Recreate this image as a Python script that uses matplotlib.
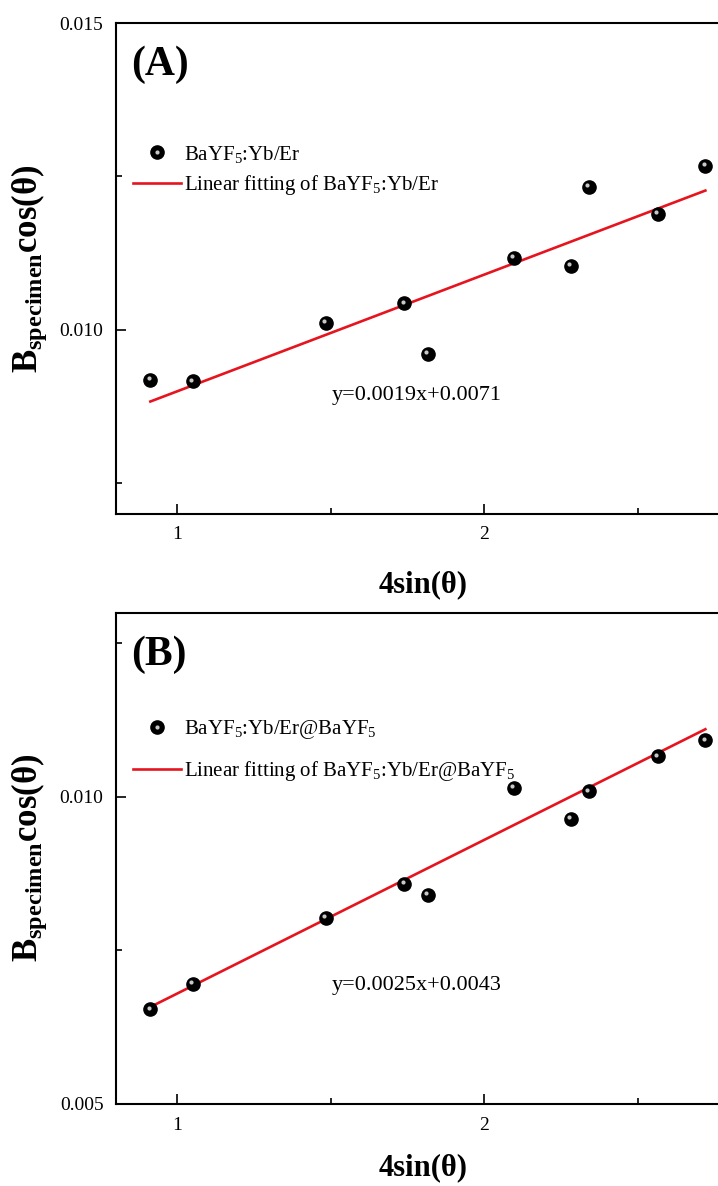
import numpy as np
import matplotlib
matplotlib.use("Agg")
import matplotlib.pyplot as plt
from matplotlib.transforms import offset_copy
from matplotlib.lines import Line2D

plt.rcParams['font.family'] = ['Liberation Serif', 'DejaVu Serif']
plt.rcParams['mathtext.fontset'] = 'custom'
plt.rcParams['mathtext.rm'] = 'Liberation Serif'
plt.rcParams['mathtext.bf'] = 'Liberation Serif:bold'
plt.rcParams['mathtext.it'] = 'Liberation Serif:italic'

# 4sin(theta) values (same peaks for both samples)
x_vals = [0.912, 1.051, 1.483, 1.740, 1.816, 2.096, 2.284, 2.342, 2.566, 2.721]
# B_specimen*cos(theta)
y_core = [0.00919, 0.00916, 0.01012, 0.01043, 0.00961, 0.01117, 0.01104, 0.01233, 0.01189, 0.01267]
y_shell = [0.00654, 0.00696, 0.00803, 0.00858, 0.00840, 0.01015, 0.00964, 0.01009, 0.01066, 0.01092]
# linear fits (slope, intercept)
fit_core = [0.0019, 0.0071]
fit_shell = [0.0025, 0.0043]

names = ['BaYF$_5$:Yb/Er', 'BaYF$_5$:Yb/Er@BaYF$_5$']
panel_tags = ['(A)', '(B)']
ylims = [(0.007, 0.015), (0.005, 0.013)]
y_major = [[0.010, 0.015], [0.005, 0.010]]
y_minor = [0.0075, 0.0125]

W, H = 718, 1186
fig = plt.figure(figsize=(W / 100, H / 100), dpi=100)
left = 116 / W
width = (729.6 - 116) / W
axA = fig.add_axes([left, 1 - 514 / H, width, (514 - 23) / H])
axB = fig.add_axes([left, 1 - 1104 / H, width, (1104 - 612.7) / H])

red = '#e6141e'
leg_y = [0.754, 0.785]
leg_sp = [0.4, 0.85]
xlab_y = [-0.114, -0.1]

for i, (ax, yv, fit) in enumerate([(axA, y_core, fit_core), (axB, y_shell, fit_shell)]):
    # fit line
    xs = np.array([min(x_vals), max(x_vals)])
    ax.plot(xs, fit[0] * xs + fit[1], color=red, lw=1.9, zorder=2)
    # sphere-like markers
    ax.plot(x_vals, yv, 'o', ms=9.5, color='black', zorder=3)
    hl = offset_copy(ax.transData, fig=fig, x=-1.3, y=1.3, units='points')
    ax.plot(x_vals, yv, 'o', ms=3, color='#c8c8c8', mew=0, transform=hl, zorder=4)

    ax.set_xlim(0.8, 2.8)
    ax.set_ylim(*ylims[i])
    ax.set_xticks([1, 2])
    ax.set_xticklabels(['1', '2'])
    ax.set_xticks([1.5, 2.5], minor=True)
    ax.set_yticks(y_major[i])
    ax.set_yticklabels(['%.3f' % v for v in y_major[i]])
    ax.set_yticks(y_minor, minor=True)
    ax.tick_params(which='both', direction='in', top=False, right=False,
                   labelsize=14, width=1.2, pad=9)
    ax.tick_params(which='major', length=7)
    ax.tick_params(which='minor', length=4)
    for sp in ax.spines.values():
        sp.set_linewidth(1.5)

    ax.set_xlabel('4sin(θ)', fontsize=22, fontweight='bold')
    ax.xaxis.set_label_coords(0.5, xlab_y[i])
    ax.set_ylabel(r'$\mathbf{B}_{\mathbf{specimen}}\mathbf{cos(θ)}$', fontsize=25)
    ax.yaxis.set_label_coords(-0.11, 0.5)

    ax.text(0.024, 0.915, panel_tags[i], transform=ax.transAxes, fontsize=30,
            fontweight='bold', ha='left', va='center')
    ax.text(0.49, 0.242, 'y=%.4fx+%.4f' % (fit[0], fit[1]), transform=ax.transAxes,
            fontsize=16, ha='center', va='center')

    h_dot = Line2D([], [], ls='none', marker='o', ms=9.5, color='black')
    h_hl = Line2D([], [], ls='none', marker='o', ms=3, color='#c8c8c8', mew=0)
    h_line = Line2D([], [], color=red, lw=1.9)
    ax.legend([(h_dot, h_hl), h_line], [names[i], 'Linear fitting of ' + names[i]],
              loc='upper left', bbox_to_anchor=(0.028, leg_y[i]), frameon=False,
              fontsize=15, borderpad=0, borderaxespad=0, handlelength=2.3,
              handletextpad=0.15, labelspacing=leg_sp[i])

fig.savefig('out.png', dpi=100)
